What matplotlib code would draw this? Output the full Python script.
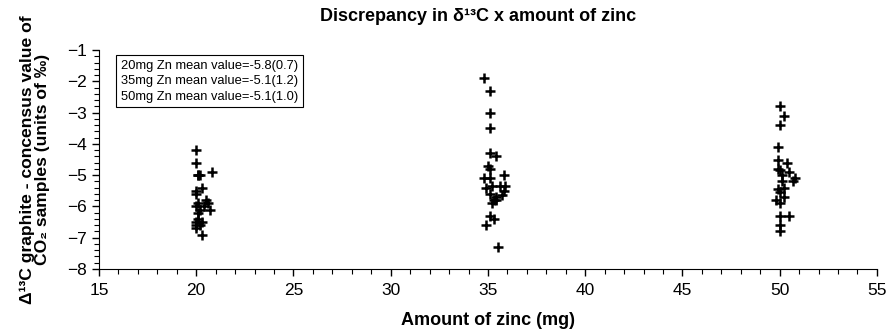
import numpy as np
import matplotlib
matplotlib.use('Agg')
import matplotlib.pyplot as plt
from matplotlib.ticker import MultipleLocator

plt.rcParams['font.family'] = ['Liberation Sans', 'DejaVu Sans']

# data (x = amount of zinc in mg, y = discrepancy in permil)
x20 = [20.0, 20.0, 20.1, 20.2, 20.1, 20.8, 20.3, 20.0, 20.0, 20.1, 20.5, 20.6,
       20.4, 20.0, 20.2, 20.7, 20.1, 20.3, 20.0, 20.1, 20.0, 20.2, 20.0, 20.3]
y20 = [-4.2, -4.6, -5.0, -5.0, -5.0, -4.9, -5.4, -5.5, -5.6, -5.9, -5.8, -5.9,
       -6.0, -6.0, -6.1, -6.1, -6.2, -6.5, -6.5, -6.4, -6.7, -6.6, -6.6, -6.9]

x35 = [34.8, 35.1, 35.1, 35.1, 35.1, 35.4, 35.0, 35.1, 34.8, 35.1, 35.85, 34.9, 35.2,
       35.6, 35.9, 35.85, 35.1, 35.4, 35.7, 35.4, 35.1, 35.3, 34.9, 35.5, 35.3, 35.2]
y35 = [-1.9, -2.3, -3.0, -3.5, -4.3, -4.4, -4.7, -4.8, -5.1, -5.1, -5.0, -5.4, -5.35,
       -5.35, -5.35, -5.5, -5.6, -5.7, -5.65, -5.8, -6.3, -6.4, -6.6, -7.3, -5.8, -5.9]

x50 = [50.0, 50.2, 50.0, 49.9, 49.9, 50.4, 49.9, 50.0, 50.5, 50.1, 50.8, 50.7,
       50.1, 50.2, 49.9, 50.0, 49.8, 50.2, 50.0, 50.0, 50.5, 50.0, 50.0]
y50 = [-2.8, -3.1, -3.4, -4.1, -4.5, -4.6, -4.8, -4.85, -4.9, -5.0, -5.1, -5.2,
       -5.2, -5.4, -5.45, -5.55, -5.8, -5.7, -5.9, -6.3, -6.3, -6.6, -6.8]

legend_lines = ['20mg Zn mean value=-5.8(0.7)',
                '35mg Zn mean value=-5.1(1.2)',
                '50mg Zn mean value=-5.1(1.0)']

fig = plt.figure(figsize=(8.88, 3.34), dpi=100)
ax = fig.add_axes([0.1115, 0.1946, 0.876, 0.6557])

for xs, ys in [(x20, y20), (x35, y35), (x50, y50)]:
    ax.plot(xs, ys, linestyle='none', marker='+', markersize=7.5,
            markeredgewidth=1.8, color='black')

ax.set_xlim(15, 55)
ax.set_ylim(-8, -1)
ax.xaxis.set_major_locator(MultipleLocator(5))
ax.xaxis.set_minor_locator(MultipleLocator(1))
ax.yaxis.set_major_locator(MultipleLocator(1))
ax.yaxis.set_minor_locator(MultipleLocator(0.2))
ax.tick_params(which='major', length=5, width=1, labelsize=12.5, direction='out')
ax.tick_params(which='minor', length=3.5, width=0.8, direction='out')
ax.tick_params(axis='x', which='major', pad=5)
ax.tick_params(axis='y', which='major', pad=4)
ax.spines['top'].set_visible(False)
ax.spines['right'].set_visible(False)

ax.text(0.028, 0.955, '\n'.join(legend_lines), transform=ax.transAxes,
        fontsize=9.3, va='top', ha='left', linespacing=1.38,
        bbox=dict(boxstyle='square,pad=0.35', facecolor='white',
                  edgecolor='black', linewidth=0.8))

fig.text(0.538, 0.952, 'Discrepancy in δ¹³C x amount of zinc',
         ha='center', va='center', fontsize=13, fontweight='bold')
ax.set_xlabel('Amount of zinc (mg)', fontsize=13, fontweight='bold', labelpad=10)
ax.set_ylabel('Δ¹³C graphite - concensus value of\nCO₂ samples (units of ‰)',
              fontsize=12.6, fontweight='bold', labelpad=12, linespacing=1.0)

fig.savefig('out.png', dpi=100)
